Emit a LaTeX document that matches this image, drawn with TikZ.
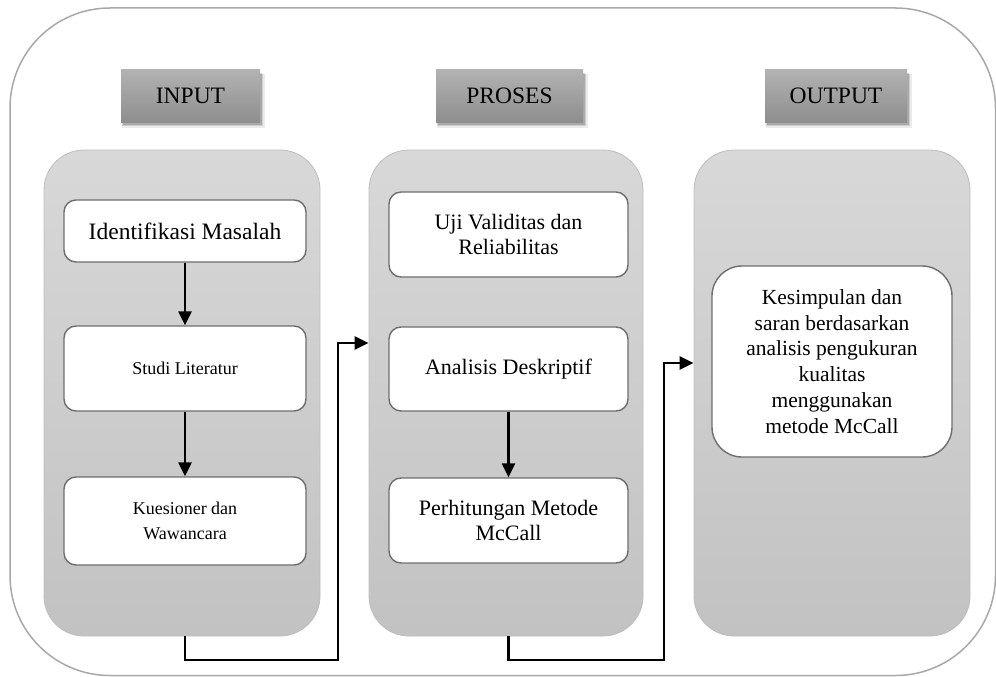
\documentclass[tikz,border=0pt]{standalone}
\usepackage{fontspec}
\setmainfont{Liberation Serif}
\usetikzlibrary{shadows,arrows.meta,calc}
\definecolor{outerc}{HTML}{A8A8A8}
\definecolor{paneltop}{HTML}{D8D8D8}
\definecolor{panelbot}{HTML}{C2C2C2}
\definecolor{panelline}{HTML}{BDBDBD}
\definecolor{headtop}{HTML}{B2B2B2}
\definecolor{headbot}{HTML}{8E8E8E}
\definecolor{boxline}{HTML}{6E6E6E}
\tikzset{
  panel/.style={rounded corners=40pt, draw=panelline, line width=0.8pt,
    top color=paneltop, bottom color=panelbot, inner sep=0pt},
  header/.style={draw=none, top color=headtop, bottom color=headbot,
    inner sep=0pt, font=\fontsize{23.5}{28}\selectfont,
    drop shadow={shadow xshift=3pt, shadow yshift=-5pt, opacity=0.08, fill=black, shadow scale=1.03},
    drop shadow={shadow xshift=2pt, shadow yshift=-4pt, opacity=0.12, fill=black, shadow scale=1.015},
    drop shadow={shadow xshift=1.5pt, shadow yshift=-3pt, opacity=0.18, fill=black}},
  wbox/.style={rounded corners=12pt, draw=boxline, line width=1.4pt, fill=white,
    inner sep=0pt, align=center},
  conn/.style={line width=2.6pt, -{Triangle[length=14pt,width=13pt]}},
  vconn/.style={line width=2.4pt, -{Triangle[length=14pt,width=13pt]}},
}
\begin{document}
\begin{tikzpicture}[x=1pt,y=-1pt]
\useasboundingbox (0,0) rectangle (996,677);
\draw[outerc, line width=1.5pt, rounded corners=100pt] (10,8) rectangle (995.5,675.5);

% headers
\node[header, minimum width=139pt, minimum height=52pt] (hin) at (190.5,96) {INPUT};
\node[header, minimum width=147pt, minimum height=52pt] (hpr) at (509.5,96) {PROSES};
\node[header, minimum width=142pt, minimum height=52pt] (hout) at (836,96) {OUTPUT};

% panels
\node[panel, minimum width=276pt, minimum height=486pt] (c1) at (182,393) {};
\node[panel, minimum width=274pt, minimum height=486pt] (c2) at (506,393) {};
\node[panel, minimum width=276pt, minimum height=486pt] (c3) at (832,393) {};

% column 1
\node[wbox, minimum width=242pt, minimum height=62pt, font=\fontsize{23.5}{28}\selectfont] (idm) at (185,231) {Identifikasi Masalah};
\node[wbox, minimum width=242pt, minimum height=85pt, font=\fontsize{18}{22}\selectfont] (stl) at (185,368.5) {Studi Literatur};
\node[wbox, minimum width=242pt, minimum height=88pt, font=\fontsize{18}{25}\selectfont] (kue) at (185,521) {Kuesioner dan\\Wawancara};

% column 2
\node[wbox, minimum width=239pt, minimum height=85pt, font=\fontsize{22}{25.5}\selectfont] (uji) at (508.5,234.5) {Uji Validitas dan\\Reliabilitas};
\node[wbox, minimum width=239pt, minimum height=84pt, font=\fontsize{22}{26}\selectfont] (ana) at (508.5,369) {Analisis Deskriptif};
\node[wbox, minimum width=239pt, minimum height=85pt, font=\fontsize{22}{25.5}\selectfont] (per) at (508.5,520.5) {Perhitungan Metode\\McCall};

% column 3
\node[wbox, rounded corners=30pt, minimum width=240pt, minimum height=191pt, font=\fontsize{21.5}{25.8}\selectfont] (kes) at (832,361.5) {Kesimpulan dan\\saran berdasarkan\\analisis pengukuran\\kualitas\\menggunakan\\metode McCall};

% vertical arrows
\draw[vconn] (idm) -- (stl);
\draw[vconn] (stl) -- (kue);
\draw[vconn] (ana) -- (per);

% connectors between columns
\coordinate (j1) at (338,660);
\coordinate (k1) at (338,343);
\coordinate (j2) at (664,660);
\coordinate (k2) at (664,363);
\draw[conn] (kue.south |- c1.south) |- (j1) -- (k1) -- (k1 -| c2.west);
\draw[conn] (per.south |- c2.south) |- (j2) -- (k2) -- (k2 -| c3.west);
\end{tikzpicture}
\end{document}
